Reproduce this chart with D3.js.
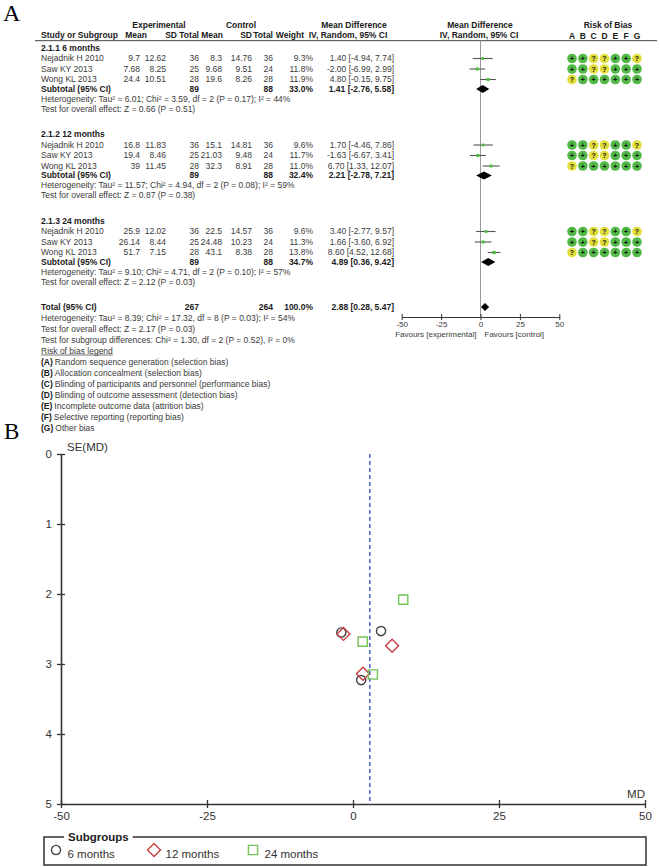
<!DOCTYPE html>
<html>
<head>
<meta charset="utf-8">
<script src="https://cdn.jsdelivr.net/npm/d3@7"></script>
<style>
body { margin: 0; background: #fff; }
svg { display: block; font-family: "Liberation Sans", Arial, sans-serif; }
</style>
</head>
<body>
<svg id="fig" width="659" height="867"></svg>
<script>
// values
const groupNames = ["2.1.1 6 months", "2.1.2 12 months", "2.1.3 24 months"];
const studyNames = ["Nejadnik H 2010", "Saw KY 2013", "Wong KL 2013"];

const expMean = [[9.7, 7.68, 24.4], [16.8, 19.4, 39], [25.9, 26.14, 51.7]];
const expSD   = [[12.62, 8.25, 10.51], [11.83, 8.46, 11.45], [12.02, 8.44, 7.15]];
const expN    = [[36, 25, 28], [36, 25, 28], [36, 25, 28]];
const ctlMean = [[8.3, 9.68, 19.6], [15.1, 21.03, 32.3], [22.5, 24.48, 43.1]];
const ctlSD   = [[14.76, 9.51, 8.26], [14.81, 9.48, 8.91], [14.57, 10.23, 8.38]];
const ctlN    = [[36, 24, 28], [36, 24, 28], [36, 24, 28]];
const weights = [[9.3, 11.8, 11.9], [9.6, 11.7, 11.0], [9.6, 11.3, 13.8]];
const md      = [[1.40, -2.00, 4.80], [1.70, -1.63, 6.70], [3.40, 1.66, 8.60]];
const mdLo    = [[-4.94, -6.99, -0.15], [-4.46, -6.67, 1.33], [-2.77, -3.60, 4.52]];
const mdHi    = [[7.74, 2.99, 9.75], [7.86, 3.41, 12.07], [9.57, 6.92, 12.68]];

const subN      = [[89, 88], [89, 88], [89, 88]];
const subWeight = [33.0, 32.4, 34.7];
const subMd     = [1.41, 2.21, 4.89];
const subLo     = [-2.76, -2.78, 0.36];
const subHi     = [5.58, 7.21, 9.42];
const hetText = [
  "Heterogeneity: Tau\u00b2 = 6.01; Chi\u00b2 = 3.59, df = 2 (P = 0.17); I\u00b2 = 44%",
  "Heterogeneity: Tau\u00b2 = 11.57; Chi\u00b2 = 4.94, df = 2 (P = 0.08); I\u00b2 = 59%",
  "Heterogeneity: Tau\u00b2 = 9.10; Chi\u00b2 = 4.71, df = 2 (P = 0.10); I\u00b2 = 57%"
];
const effectText = [
  "Test for overall effect: Z = 0.66 (P = 0.51)",
  "Test for overall effect: Z = 0.87 (P = 0.38)",
  "Test for overall effect: Z = 2.12 (P = 0.03)"
];

const totalN = [267, 264];
const totalMd = 2.88, totalLo = 0.28, totalHi = 5.47;
const totalNotes = [
  "Heterogeneity: Tau\u00b2 = 8.39; Chi\u00b2 = 17.32, df = 8 (P = 0.03); I\u00b2 = 54%",
  "Test for overall effect: Z = 2.17 (P = 0.03)",
  "Test for subgroup differences: Chi\u00b2 = 1.30, df = 2 (P = 0.52), I\u00b2 = 0%"
];

const biasLetters = ["A", "B", "C", "D", "E", "F", "G"];
const biasRows = [
  ["+", "+", "?", "?", "+", "+", "?"],
  ["+", "+", "?", "?", "+", "+", "+"],
  ["?", "+", "+", "+", "+", "+", "+"]
];
const biasLegend = [
  "Random sequence generation (selection bias)",
  "Allocation concealment (selection bias)",
  "Blinding of participants and personnel (performance bias)",
  "Blinding of outcome assessment (detection bias)",
  "Incomplete outcome data (attrition bias)",
  "Selective reporting (reporting bias)",
  "Other bias"
];
const forestTicks = [-50, -25, 0, 25, 50];

// funnel plot: SE of each study's MD
const seMD = [[3.23, 2.55, 2.53], [3.14, 2.57, 2.74], [3.15, 2.68, 2.08]];
const subgroupLabels = ["6 months", "12 months", "24 months"];
const funnelXTicks = [-50, -25, 0, 25, 50];
const funnelYTicks = [0, 1, 2, 3, 4, 5];

// ---------------------------------------------------------------
const svg = d3.select("#fig");
const fmt2 = v => v.toFixed(2);
const ciText = (m, lo, hi) => fmt2(m) + " [" + fmt2(lo) + ", " + fmt2(hi) + "]";

function txt(g, x, y, s, o) {
  o = o || {};
  return g.append("text")
    .attr("x", x).attr("y", y).attr("dy", "0.35em")
    .attr("text-anchor", o.anchor || "start")
    .attr("font-weight", o.bold ? "bold" : "normal")
    .attr("fill", o.fill || (o.bold ? "#1a1a1a" : "#3a3a3a"))
    .text(s);
}

// ---------------- panel A ----------------
svg.append("text").attr("x", 3).attr("y", 21)
  .attr("font-family", "'Liberation Serif', 'Times New Roman', serif")
  .attr("font-size", 24).text("A");

const A = svg.append("g").attr("font-size", 8.5);

txt(A, 159, 25, "Experimental", {anchor: "middle", bold: true});
txt(A, 241, 25, "Control", {anchor: "middle", bold: true});
txt(A, 354, 25, "Mean Difference", {anchor: "middle", bold: true});
txt(A, 480, 25, "Mean Difference", {anchor: "middle", bold: true});
txt(A, 608, 25, "Risk of Bias", {anchor: "middle", bold: true});

const head2 = [["Mean", 147], ["SD", 177], ["Total", 199], ["Mean", 223], ["SD", 252], ["Total", 273], ["Weight", 304]];
txt(A, 41, 35, "Study or Subgroup", {bold: true});
head2.forEach(h => txt(A, h[1], 35, h[0], {anchor: "end", bold: true}));
txt(A, 348, 35, "IV, Random, 95% CI", {anchor: "middle", bold: true});
txt(A, 479, 35, "IV, Random, 95% CI", {anchor: "middle", bold: true});

const xB = d3.scalePoint().domain(biasLetters).range([572, 637]);
biasLetters.forEach(l => txt(A, xB(l), 36, l, {anchor: "middle", bold: true}));

A.append("line").attr("x1", 35).attr("x2", 657).attr("y1", 40.7).attr("y2", 40.7)
  .attr("stroke", "#444").attr("stroke-width", 1);

const xF = d3.scaleLinear().domain([-50, 50]).range([401.7, 559.3]);
const wSize = d3.scaleSqrt().domain([0, 100]).range([0, 9]);

const colX = {expMean: 140, expSD: 166, expN: 199, ctlMean: 222, ctlSD: 252, ctlN: 273, w: 313, ci: 394};
const groupTop = [48, 134.5, 221];
const rowStep = 10.5;
const totalY = 307;

A.append("line")
  .attr("x1", xF(0)).attr("x2", xF(0)).attr("y1", 40.7).attr("y2", 317)
  .attr("stroke", "#9a9a9a").attr("stroke-width", 1);

function diamond(y, m, lo, hi) {
  A.append("path")
    .attr("d", `M${xF(lo)},${y}L${xF(m)},${y - 4}L${xF(hi)},${y}L${xF(m)},${y + 4}Z`)
    .attr("fill", "#000");
}

groupNames.forEach((gName, gi) => {
  const top = groupTop[gi];
  txt(A, 41, top, gName, {bold: true});
  studyNames.forEach((s, si) => {
    const y = top + rowStep * (si + 1);
    txt(A, 41, y, s);
    txt(A, colX.expMean, y, String(expMean[gi][si]), {anchor: "end"});
    txt(A, colX.expSD, y, String(expSD[gi][si]), {anchor: "end"});
    txt(A, colX.expN, y, String(expN[gi][si]), {anchor: "end"});
    txt(A, colX.ctlMean, y, String(ctlMean[gi][si]), {anchor: "end"});
    txt(A, colX.ctlSD, y, String(ctlSD[gi][si]), {anchor: "end"});
    txt(A, colX.ctlN, y, String(ctlN[gi][si]), {anchor: "end"});
    txt(A, colX.w, y, weights[gi][si].toFixed(1) + "%", {anchor: "end"});
    txt(A, colX.ci, y, ciText(md[gi][si], mdLo[gi][si], mdHi[gi][si]), {anchor: "end"});

    A.append("line")
      .attr("x1", xF(mdLo[gi][si])).attr("x2", xF(mdHi[gi][si]))
      .attr("y1", y).attr("y2", y)
      .attr("stroke", "#555").attr("stroke-width", 1.1);
    const sz = wSize(weights[gi][si]);
    A.append("rect")
      .attr("x", xF(md[gi][si]) - sz / 2).attr("y", y - sz / 2)
      .attr("width", sz).attr("height", sz)
      .attr("fill", "#4fbf3f");

    biasRows[si].forEach((b, bi) => {
      const cx = xB(biasLetters[bi]);
      A.append("circle").attr("cx", cx).attr("cy", y).attr("r", 4.8)
        .attr("fill", b === "+" ? "#52b848" : "#e2de3c");
      A.append("text").attr("x", cx).attr("y", y).attr("dy", "0.36em")
        .attr("text-anchor", "middle").attr("font-size", 7).attr("font-weight", "bold")
        .attr("fill", "#111").text(b);
    });
  });
  const ys = top + rowStep * 4 - 1;
  txt(A, 41, ys, "Subtotal (95% CI)", {bold: true});
  txt(A, colX.expN, ys, String(subN[gi][0]), {anchor: "end", bold: true});
  txt(A, colX.ctlN, ys, String(subN[gi][1]), {anchor: "end", bold: true});
  txt(A, colX.w, ys, subWeight[gi].toFixed(1) + "%", {anchor: "end", bold: true});
  txt(A, colX.ci, ys, ciText(subMd[gi], subLo[gi], subHi[gi]), {anchor: "end", bold: true});
  diamond(ys, subMd[gi], subLo[gi], subHi[gi]);
  txt(A, 41, top + 51, hetText[gi]);
  txt(A, 41, top + 61, effectText[gi]);
});

txt(A, 41, totalY, "Total (95% CI)", {bold: true});
txt(A, colX.expN, totalY, String(totalN[0]), {anchor: "end", bold: true});
txt(A, colX.ctlN, totalY, String(totalN[1]), {anchor: "end", bold: true});
txt(A, colX.w, totalY, "100.0%", {anchor: "end", bold: true});
txt(A, colX.ci, totalY, ciText(totalMd, totalLo, totalHi), {anchor: "end", bold: true});
diamond(totalY, totalMd, totalLo, totalHi);

totalNotes.forEach((t, i) => txt(A, 41, totalY + 11 * (i + 1), t));
const legY = totalY + 11 * 4;
const legT = txt(A, 41, legY, "Risk of bias legend");
const lw = legT.node().getComputedTextLength();
A.append("line").attr("x1", 41).attr("x2", 41 + lw).attr("y1", legY + 4).attr("y2", legY + 4)
  .attr("stroke", "#3a3a3a").attr("stroke-width", 0.7);
biasLegend.forEach((t, i) => {
  const y = legY + 11 * (i + 1);
  const t1 = txt(A, 41, y, "(" + biasLetters[i] + ")", {bold: true});
  txt(A, 41 + t1.node().getComputedTextLength() + 2, y, t);
});

// forest axis
const fAxis = A.append("g").attr("transform", "translate(0,317)")
  .call(d3.axisBottom(xF).tickValues(forestTicks).tickFormat(d => String(d))
    .tickSizeInner(3).tickSizeOuter(0).tickPadding(1));
fAxis.select(".domain").attr("stroke", "#333");
fAxis.selectAll(".tick line").attr("y1", -3).attr("stroke", "#333");
fAxis.selectAll(".tick text").attr("font-size", 8).attr("fill", "#3a3a3a")
  .attr("font-family", "'Liberation Sans', Arial, sans-serif");
txt(A, xF(0) - 4, 334.5, "Favours [experimental]", {anchor: "end"}).attr("font-size", 8);
txt(A, xF(0) + 4, 334.5, "Favours [control]", {anchor: "start"}).attr("font-size", 8);

// ---------------- panel B ----------------
svg.append("text").attr("x", 4).attr("y", 439)
  .attr("font-family", "'Liberation Serif', 'Times New Roman', serif")
  .attr("font-size", 23).text("B");

const B = svg.append("g").attr("font-size", 11.5);
const xM = d3.scaleLinear().domain([-50, 50]).range([61, 645]);
const yS = d3.scaleLinear().domain([0, 5]).range([454, 804]);

const yAx = B.append("g").attr("transform", `translate(${xM(-50)},0)`)
  .call(d3.axisLeft(yS).tickValues(funnelYTicks).tickFormat(d => String(d))
    .tickSizeInner(4).tickSizeOuter(0).tickPadding(5));
const xAx = B.append("g").attr("transform", `translate(0,${yS(5)})`)
  .call(d3.axisBottom(xM).tickValues(funnelXTicks).tickFormat(d => String(d))
    .tickSizeInner(4).tickSizeOuter(0).tickPadding(4));
[yAx, xAx].forEach(ax => {
  ax.select(".domain").attr("stroke", "#333").attr("stroke-width", 1.6);
  ax.selectAll(".tick line").attr("stroke", "#333").attr("stroke-width", 1.3);
  ax.selectAll(".tick text").attr("font-size", 11.5).attr("fill", "#333")
    .attr("font-family", "'Liberation Sans', Arial, sans-serif");
});
yAx.selectAll(".tick line").attr("x1", 4);
xAx.selectAll(".tick line").attr("y1", -4);

txt(B, xM(-50) + 6, 447, "SE(MD)", {fill: "#333"});
txt(B, xM(50), 794, "MD", {anchor: "end", fill: "#333"});

B.append("line")
  .attr("x1", xM(totalMd)).attr("x2", xM(totalMd))
  .attr("y1", yS(0)).attr("y2", yS(5))
  .attr("stroke", "#4f6cc9").attr("stroke-width", 1.6).attr("stroke-dasharray", "4,3");

const markStyle = [
  {type: d3.symbolCircle, size: 66, rot: 0, color: "#444"},
  {type: d3.symbolSquare, size: 84, rot: 45, color: "#c44040"},
  {type: d3.symbolSquare, size: 84, rot: 0, color: "#72c455"}
];
md.forEach((grp, gi) => {
  const st = markStyle[gi];
  grp.forEach((m, si) => {
    B.append("path")
      .attr("d", d3.symbol().type(st.type).size(st.size)())
      .attr("transform", `translate(${xM(m)},${yS(seMD[gi][si])}) rotate(${st.rot})`)
      .attr("fill", "none").attr("stroke", st.color).attr("stroke-width", 1.4);
  });
});

// legend box
B.append("rect").attr("x", 44).attr("y", 837).attr("width", 602).attr("height", 28)
  .attr("fill", "none").attr("stroke", "#333").attr("stroke-width", 1.5);
const ltBg = B.append("rect").attr("y", 831).attr("height", 12).attr("fill", "#fff");
const lt = txt(B, 68, 837, "Subgroups", {bold: true, fill: "#222"});
ltBg.attr("x", 64).attr("width", lt.node().getComputedTextLength() + 8);

const legX = [56, 154, 253];
subgroupLabels.forEach((l, i) => {
  const st = markStyle[i];
  B.append("path")
    .attr("d", d3.symbol().type(st.type).size(st.size)())
    .attr("transform", `translate(${legX[i]},850) rotate(${st.rot})`)
    .attr("fill", "none").attr("stroke", st.color).attr("stroke-width", 1.4);
  txt(B, legX[i] + 11.5, 854, l, {fill: "#333"});
});
</script>
</body>
</html>
